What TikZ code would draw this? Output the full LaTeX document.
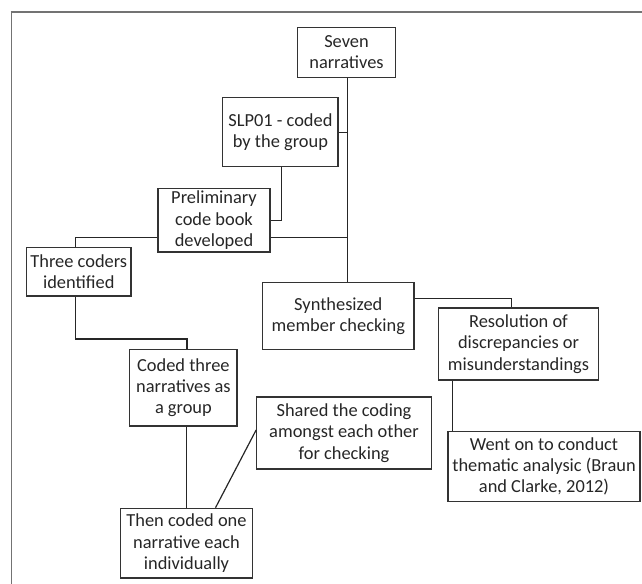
\documentclass[tikz,border=0pt]{standalone}
\usepackage{fontspec}
\setmainfont{Carlito}
\usetikzlibrary{calc}
\tikzset{
  box/.style={draw=black!80, line width=0.9pt, align=center, inner sep=0pt,
    text=black!85, font=\fontsize{13.8}{16}\selectfont},
  link/.style={draw=black!85, line width=0.9pt},
  frameline/.style={draw=black!55, line width=1.2pt}
}
\begin{document}
\begin{tikzpicture}[x=0.75pt,y=-0.75pt]
			%%%%% START %%%%%
			\useasboundingbox (0,0) rectangle (642,584);
			\draw[frameline] (10.5,12) -- (642,12);
			\draw[frameline] (11.5,12) -- (11.5,584);
			
			\node[box, minimum width=73pt, minimum height=37.5pt] (seven) at (346.5,52.3) {Seven\\narratives};
			\node[box, minimum width=86.5pt, minimum height=51.8pt] (slp) at (280.4,132.2) {SLP01 - coded\\by the group};
			\node[box, minimum width=84pt, minimum height=47.8pt] (prelim) at (214,220.2) {Preliminary\\code book\\developed};
			\node[box, minimum width=78.3pt, minimum height=36.2pt] (three) at (78.8,271.9) {Three coders\\identified};
			\node[box, minimum width=113.6pt, minimum height=50pt] (synth) at (338.3,316) {Synthesized\\member checking};
			\node[box, minimum width=120.5pt, minimum height=54pt] (resol) at (518.5,344) {Resolution of\\discrepancies or\\misunderstandings};
			\node[box, minimum width=144pt, minimum height=52pt] (went) at (544,466.5) {Went on to conduct\\thematic analysic (Braun\\and Clarke, 2012)};
			\node[box, minimum width=80.4pt, minimum height=57.5pt] (coded) at (183.4,387.7) {Coded three\\narratives as\\a group};
			\node[box, minimum width=130.9pt, minimum height=54pt] (shared) at (344,433) {Shared the coding\\amongst each other\\for checking};
			\node[box, minimum width=99.2pt, minimum height=52.3pt] (then) at (186.5,543.2) {Then coded one\\narrative each\\individually};
			
			% trunk
			\draw[link] ($(seven.south)+(1,0)$) -- ($(seven.south |- synth.north)+(1,0)$);
			\draw[link] (slp.east) -- ($(slp.east -| seven.south)+(1,0)$);
			\draw[link] ($(slp.south)+(1.2,0)$) |- (prelim.east);
			\coordinate (prelimlow) at ($(prelim.south east)+(0,-15)$);
			\draw[link] (prelimlow) -- ($(prelimlow -| seven.south)+(1,0)$);
			\draw[link] (prelimlow -| prelim.west) -| ($(three.north)+(-3.5,0)$);
			
			% left branch
			\draw[link] ($(three.south)+(-3.5,0)$) -- ++(0,42.3) -| ($(coded.north)+(3.5,0)$);
			\draw[link] (then.north |- coded.south) -- (then.north);
			\draw[link] ($(shared.west)+(0,-3)$) -- ($(then.north)+(29,0)$);
			
			% right branch
			\draw[link] ($(synth.north east)+(0,16.3)$) -| ($(resol.north)+(-7.2,0)$);
			\coordinate (resolfoot) at ($(resol.south west)+(14.8,0)$);
			\draw[link] (resolfoot) -- (resolfoot |- went.north);
			%%%%% END %%%%%
\end{tikzpicture}
\end{document}
